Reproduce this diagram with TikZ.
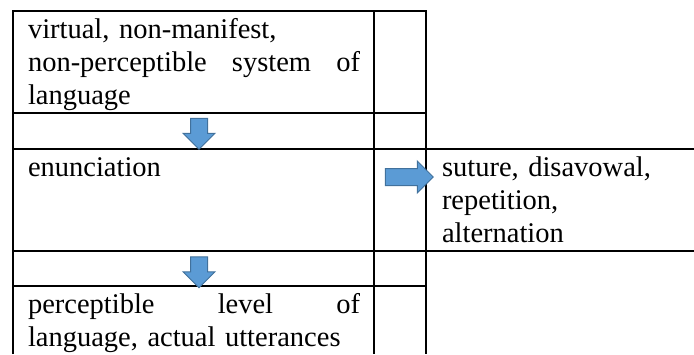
\documentclass[tikz,border=0pt]{standalone}
\usepackage{fontspec}
\setmainfont{Liberation Serif}
\usetikzlibrary{shapes.arrows}

\begin{document}
\begin{tikzpicture}[
    x=1pt, y=-1pt,
    every node/.style={inner sep=0pt, outer sep=0pt},
    tableline/.style={line width=2pt, line join=miter},
    celltext/.style={anchor=base west, align=left, font=\fontsize{28.5}{33}\selectfont},
    blockarrow/.style={single arrow, fill=arrowfill, draw=arrowedge, line width=1pt,
        text height=8pt, text depth=8pt, text width=0pt,
        minimum height=31pt, minimum width=31pt, single arrow head extend=7.5pt},
]

% Colors
\definecolor{arrowfill}{HTML}{5B9BD5}
\definecolor{arrowedge}{HTML}{41719C}

% X positions
\def\xl{13}
\def\xm{374}
\def\xr{426}
\def\xe{694}

% Y positions
\def\ya{11}
\def\yb{113}
\def\yc{148.5}
\def\yd{251}
\def\ye{286}
\def\yf{354}

\useasboundingbox (0,0) rectangle (694,354);

% Table rules
\draw[tableline] (\xl,\yf) -- (\xl,\ya) -- (\xr,\ya) -- (\xr,\yf);
\draw[tableline] (\xm,\ya) -- (\xm,\yf);
\draw[tableline] (\xl,\yb) -- (\xr,\yb);
\draw[tableline] (\xl,\yc) -- (\xe,\yc);
\draw[tableline] (\xl,\yd) -- (\xe,\yd);
\draw[tableline] (\xl,\ye) -- (\xr,\ye);

% Cell texts
\node[celltext, text width=332pt] (system) at (28,38)
    {virtual, non-manifest,\\non-perceptible\hfill system\hfill of\\language};
\node[celltext] (enunciation) at (28,176) {enunciation};
\node[celltext, text width=332pt] (level) at (28,313)
    {perceptible\hfill level\hfill of\\language, actual utterances};
\node[celltext, text width=245pt] (suture) at (442,176)
    {suture, disavowal,\\repetition,\\alternation};

% Block arrows
\node[blockarrow, rotate=-90] (downa) at (199,129.5) {};
\node[blockarrow, rotate=-90] (downb) at (199,268) {};
\node[blockarrow, minimum height=48pt] (right) at (405,177) {};

\end{tikzpicture}
\end{document}
